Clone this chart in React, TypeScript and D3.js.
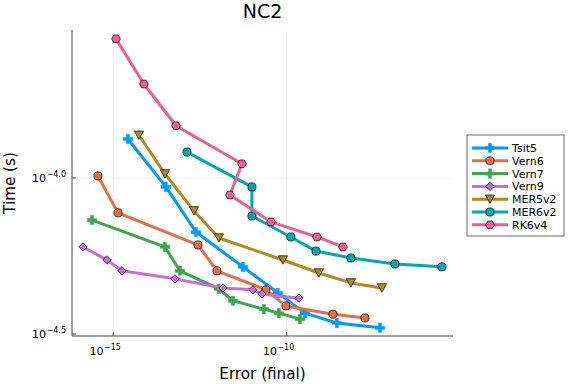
import React from "react";
import * as d3 from "d3";

const W = 576;
const H = 384;

const seriesNames = ["Tsit5", "Vern6", "Vern7", "Vern9", "MER5v2", "MER6v2", "RK6v4"];
const colors = ["#009AFA", "#E36F47", "#3EA44E", "#C371D2", "#AC8E18", "#00AAAE", "#ED5E93"];
const markers = ["plus", "circle", "plus", "diamond", "dtriangle", "circle", "hexagon"];

const tsit5Err = [2.65e-15, 3.31e-14, 2.43e-13, 5.51e-12, 5.62e-11, 3.38e-10, 2.83e-9, 4.93e-8];
const tsit5Time = [1.333e-4, 9.36e-5, 6.71e-5, 5.19e-5, 4.28e-5, 3.69e-5, 3.43e-5, 3.31e-5];

const vern6Err = [3.62e-16, 1.37e-15, 2.77e-13, 9.8e-13, 2.54e-11, 9.57e-11, 2.17e-9, 1.82e-8];
const vern6Time = [1.015e-4, 7.73e-5, 6.1e-5, 5.04e-5, 4.38e-5, 3.89e-5, 3.66e-5, 3.56e-5];

const vern7Err = [2.43e-16, 3.1e-14, 8.39e-14, 1.12e-12, 2.84e-12, 2.22e-11, 6.01e-11, 2.43e-10];
const vern7Time = [7.33e-5, 6.01e-5, 5.04e-5, 4.41e-5, 4.04e-5, 3.8e-5, 3.69e-5, 3.53e-5];

const vern9Err = [1.34e-16, 6.58e-16, 1.78e-15, 6.03e-14, 1.46e-12, 1.07e-11, 1.95e-11, 2.27e-10];
const vern9Time = [6.01e-5, 5.46e-5, 5.04e-5, 4.75e-5, 4.44e-5, 4.38e-5, 4.25e-5, 4.12e-5];

const mer5Err = [5.51e-15, 3.1e-14, 2.13e-13, 1.12e-12, 7.85e-11, 8.57e-10, 7.18e-9, 5.62e-8];
const mer5Time = [1.37e-4, 1.03e-4, 7.84e-5, 6.42e-5, 5.46e-5, 4.96e-5, 4.61e-5, 4.44e-5];

const mer6Err = [1.34e-13, 1.0e-11, 1.0e-11, 1.33e-10, 7.03e-10, 7.18e-9, 1.33e-7, 3.03e-6];
const mer6Time = [1.21e-4, 9.36e-5, 7.55e-5, 6.47e-5, 5.83e-5, 5.54e-5, 5.3e-5, 5.19e-5];

const rk6Err = [1.2e-15, 7.67e-15, 6.44e-14, 5.15e-12, 2.32e-12, 3.54e-11, 7.5e-10, 4.22e-9];
const rk6Time = [2.79e-4, 2.0e-4, 1.47e-4, 1.11e-4, 8.82e-5, 7.23e-5, 6.47e-5, 6.01e-5];

const errs = [tsit5Err, vern6Err, vern7Err, vern9Err, mer5Err, mer6Err, rk6Err];
const times = [tsit5Time, vern6Time, vern7Time, vern9Time, mer5Time, mer6Time, rk6Time];

const xTicks = [1e-15, 1e-10];
const xTickLabels = ["−15", "−10"];
const yTicks = [1e-4, Math.pow(10, -4.5)];
const yTickLabels = ["−4.0", "−4.5"];

const L = 72, R = 453, T = 30, B = 336;
const x = d3.scaleLog().domain([Math.pow(10, -16.19), Math.pow(10, -5.2)]).range([L, R]);
const y = d3.scaleLog().domain([Math.pow(10, -4.5064), Math.pow(10, -3.526)]).range([B, T]);

function markerPath(kind: string): string {
  if (kind === "circle") return d3.symbol().type(d3.symbolCircle).size(52)()!;
  if (kind === "diamond") {
    const s = 4.2;
    return `M0,${-s}L${s},0L0,${s}L${-s},0Z`;
  }
  if (kind === "dtriangle") {
    const w = 4.6, h = 4.2;
    return `M${-w},${-h}L${w},${-h}L0,${h}Z`;
  }
  if (kind === "hexagon") {
    const r = 4.4;
    const pts = d3.range(6).map((i) => {
      const a = (Math.PI / 3) * i;
      return [r * Math.cos(a), r * Math.sin(a)];
    });
    return "M" + pts.map((p) => p.join(",")).join("L") + "Z";
  }
  const a = 4.8, b = 1.6;
  return `M${-b},${-a}L${b},${-a}L${b},${-b}L${a},${-b}L${a},${b}L${b},${b}L${b},${a}L${-b},${a}L${-b},${b}L${-a},${b}L${-a},${-b}L${-b},${-b}Z`;
}

function Marker({ kind, color, cx, cy }: { kind: string; color: string; cx: number; cy: number }) {
  const isPlus = kind === "plus";
  return (
    <path
      d={markerPath(kind)}
      transform={`translate(${cx},${cy})`}
      fill={color}
      stroke={isPlus ? color : "#000"}
      strokeWidth={isPlus ? 0.3 : 0.7}
    />
  );
}

export default function App() {
  const line = d3
    .line<[number, number]>()
    .x((d) => x(d[0]))
    .y((d) => y(d[1]));
  const font = "DejaVu Sans, sans-serif";
  const legX = 467, legY = 135, legW = 97, legH = 101;
  return (
    <svg width={W} height={H} style={{ position: "absolute", left: 0, top: 0 }} fontFamily={font}>
      <rect width={W} height={H} fill="#fff" />
      {xTicks.map((t, i) => (
        <line key={"gx" + i} x1={x(t)} x2={x(t)} y1={T} y2={B} stroke="#000" strokeOpacity={0.1} strokeWidth={0.5} />
      ))}
      {yTicks.map((t, i) => (
        <line key={"gy" + i} x1={L} x2={R} y1={y(t)} y2={y(t)} stroke="#000" strokeOpacity={0.1} strokeWidth={0.5} />
      ))}
      <line x1={L} x2={L} y1={T} y2={B} stroke="#444" strokeWidth={1} />
      <line x1={L} x2={R} y1={B} y2={B} stroke="#444" strokeWidth={1} />
      {xTicks.map((t, i) => (
        <g key={"xt" + i}>
          <line x1={x(t)} x2={x(t)} y1={B} y2={B - 4} stroke="#444" strokeWidth={1} />
          <text x={x(t) - 8} y={B + 19} fontSize={11} fill="#000" textAnchor="middle">
            10
            <tspan fontSize={8} dy={-5} dx={0.5}>{xTickLabels[i]}</tspan>
          </text>
        </g>
      ))}
      {yTicks.map((t, i) => (
        <g key={"yt" + i}>
          <line x1={L} x2={L + 4} y1={y(t)} y2={y(t)} stroke="#444" strokeWidth={1} />
          <text x={L - 6} y={y(t) + 4} fontSize={11} fill="#000" textAnchor="end">
            10
            <tspan fontSize={8} dy={-5} dx={0.5}>{yTickLabels[i]}</tspan>
          </text>
        </g>
      ))}
      {seriesNames.map((n, si) => {
        const pts = errs[si].map((e, j) => [e, times[si][j]] as [number, number]);
        return (
          <g key={n}>
            <path d={line(pts)!} fill="none" stroke={colors[si]} strokeWidth={3} strokeLinejoin="round" />
            {pts.map((p, j) => (
              <Marker key={j} kind={markers[si]} color={colors[si]} cx={x(p[0])} cy={y(p[1])} />
            ))}
          </g>
        );
      })}
      <text x={(L + R) / 2} y={18} fontSize={19} textAnchor="middle" fill="#000">NC2</text>
      <text x={(L + R) / 2} y={379} fontSize={15.2} textAnchor="middle" fill="#000">Error (final)</text>
      <text transform={`translate(15,${(T + B) / 2}) rotate(-90)`} fontSize={15.2} textAnchor="middle" fill="#000">Time (s)</text>
      <rect x={legX} y={legY} width={legW} height={legH} fill="#fff" stroke="#444" strokeWidth={0.8} />
      {seriesNames.map((n, si) => {
        const ly = 148 + si * 12.8;
        return (
          <g key={"lg" + n}>
            <line x1={472} x2={508} y1={ly} y2={ly} stroke={colors[si]} strokeWidth={3} />
            <Marker kind={markers[si]} color={colors[si]} cx={490} cy={ly} />
            <text x={512} y={ly + 4} fontSize={11} fill="#000">{n}</text>
          </g>
        );
      })}
    </svg>
  );
}
